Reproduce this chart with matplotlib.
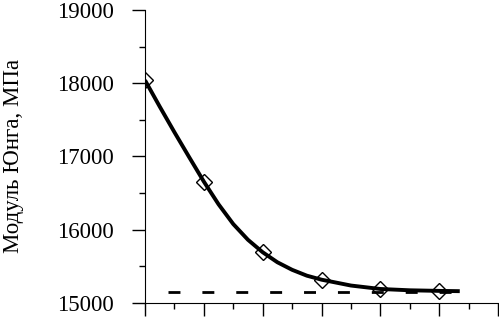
import matplotlib
matplotlib.use("Agg")
import matplotlib.pyplot as plt
from matplotlib.ticker import MultipleLocator

# измеренные точки
x_pts = [0, 1, 2, 3, 4, 5]
e_pts = [18040, 16645, 15690, 15315, 15185, 15160]

# сглаживающая кривая
x_fit = [0.0, 0.25, 0.5, 0.75, 1.0, 1.25, 1.5, 1.75, 2.0, 2.25, 2.5, 2.75,
         3.0, 3.5, 4.0, 4.5, 5.0, 5.35]
e_fit = [18040, 17680, 17330, 16990, 16655, 16345, 16075, 15860, 15690, 15553, 15450, 15370,
         15315, 15235, 15188, 15170, 15162, 15158]

# асимптота
x_asym = [0.39, 5.35]
e_asym = [15148, 15148]

plt.rcParams["font.family"] = ["Liberation Serif", "DejaVu Serif"]

fig = plt.figure(figsize=(4.99, 3.18), dpi=100)
ax = fig.add_axes([0.2906, 0.048, 0.7074, 0.9206])

ax.plot(x_asym, e_asym, color="black", lw=2, dashes=(4.3, 7.9))
ax.plot(x_fit, e_fit, color="black", lw=2.8, solid_capstyle="butt", solid_joinstyle="round")
ax.plot(x_pts, e_pts, ls="none", marker="D", ms=8, mfc="none", mec="black", mew=1.0)

ax.set_xlim(0, 6)
ax.set_ylim(15000, 19000)
ax.xaxis.set_major_locator(MultipleLocator(1))
ax.xaxis.set_minor_locator(MultipleLocator(0.5))
ax.yaxis.set_major_locator(MultipleLocator(1000))
ax.yaxis.set_minor_locator(MultipleLocator(500))
ax.set_xticklabels([])
ax.tick_params(axis="both", which="major", direction="out", length=9.5, width=1, labelsize=16.5, pad=13)
ax.tick_params(axis="both", which="minor", direction="out", length=4, width=1)
for s in ["top", "right"]:
    ax.spines[s].set_visible(False)

ax.set_ylabel("Модуль Юнга, МПа", fontsize=16.5)
ax.yaxis.set_label_coords(-0.343, 0.50)

fig.savefig("out.png", dpi=100)
